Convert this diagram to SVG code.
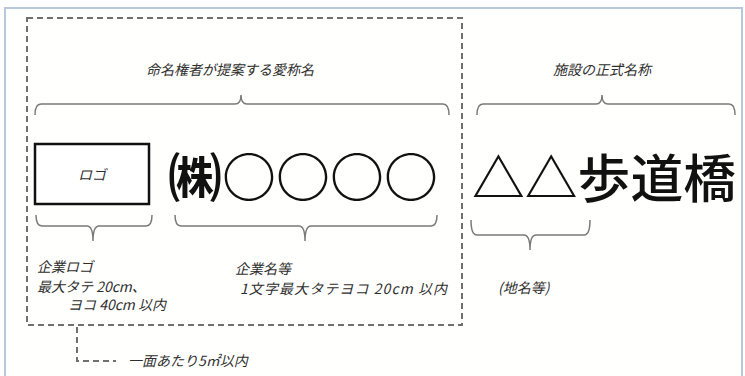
<svg xmlns="http://www.w3.org/2000/svg" width="745" height="376" viewBox="0 0 745 376">
<style>
.lbl{font-family:"Noto Sans CJK JP","Noto Sans",sans-serif;font-style:italic;font-size:14px;fill:#2e2e2e}
.big{font-family:"Noto Sans CJK JP","Noto Sans",sans-serif;fill:#111}
.brace{fill:none;stroke:#7a7a7a;stroke-width:1.5}
.dash{fill:none;stroke:#707070;stroke-width:2;stroke-dasharray:6 4}
</style>
<rect x="0" y="0" width="745" height="376" fill="#ffffff"/>
<rect x="5" y="8" width="737" height="380" fill="#fffffd" stroke="#b7c8dd" stroke-width="2"/>
<g id="connectors">
<rect class="dash" x="27" y="18" width="435" height="307"/>
<path class="dash" d="M77,327 L77,361 L116,361" stroke-width="1.5"/>
<path class="brace" d="M35,115 Q35,104 41,104 L235,104 Q241,104 241,95 Q241,104 247,104 L443,104 Q449,104 449,115"/>
<path class="brace" d="M477,115 Q477,104 483,104 L596,104 Q602,104 602,95 Q602,104 608,104 L729,104 Q735,104 735,115"/>
<path class="brace" d="M36,215 Q36,226 42,226 L87,226 Q93,226 93,241 Q93,226 99,226 L146,226 Q152,226 152,215"/>
<path class="brace" d="M175,215 Q175,226 181,226 L299,226 Q305,226 305,241 Q305,226 311,226 L431,226 Q437,226 437,215"/>
<path class="brace" d="M471,220 Q471,235 477,235 L524,235 Q530,235 530,250 Q530,235 536,235 L584,235 Q590,235 590,220"/>
</g>
<g id="nickname-title"><text class="lbl" x="230" y="75" text-anchor="middle" font-size="14.5">命名権者が提案する愛称名</text></g>
<g id="official-title"><text class="lbl" x="602" y="75" text-anchor="middle" font-size="14.5">施設の正式名称</text></g>
<g id="logo">
<rect x="35" y="144" width="114" height="60" fill="#fff" stroke="#111" stroke-width="2.5"/>
<text class="lbl" x="92" y="180" text-anchor="middle">ロゴ</text>
</g>
<g id="company-name"><text class="big" x="168" y="197" font-size="52" font-weight="bold" textLength="270" lengthAdjust="spacingAndGlyphs">㈱○○○○</text></g>
<g id="facility-name"><text class="big" x="472" y="198" font-size="52" font-weight="500" textLength="264" lengthAdjust="spacingAndGlyphs">△△歩道橋</text></g>
<g id="logo-note">
<text class="lbl" x="37" y="272">企業ロゴ</text>
<text class="lbl" x="37" y="292">最大タテ 20cm、</text>
<text class="lbl" x="68" y="310">ヨコ 40cm 以内</text>
</g>
<g id="company-note">
<text class="lbl" x="235" y="274">企業名等</text>
<text class="lbl" x="240" y="294" textLength="207" lengthAdjust="spacing">1文字最大タテヨコ 20cm 以内</text>
</g>
<g id="place-note"><text class="lbl" x="498" y="293">(地名等)</text></g>
<g id="area-note"><text class="lbl" x="128" y="366">一面あたり5㎡以内</text></g>
</svg>
